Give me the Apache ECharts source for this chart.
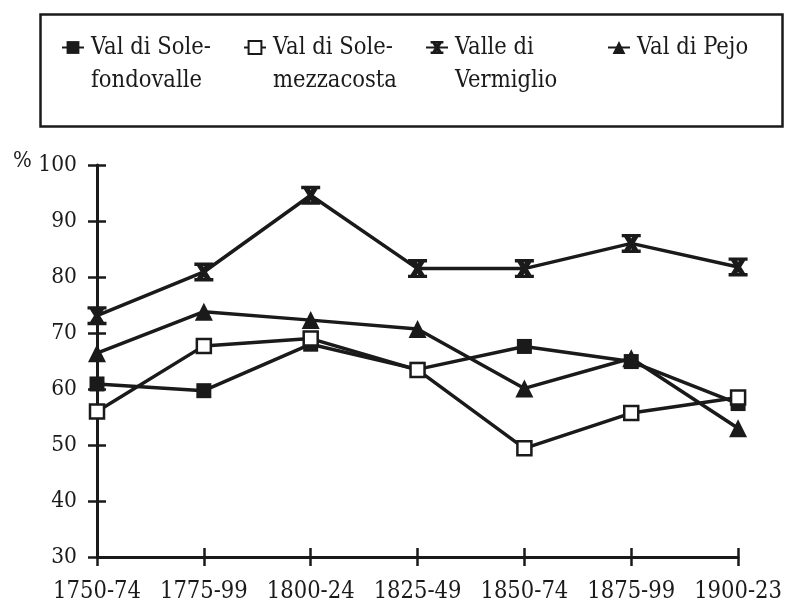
<!DOCTYPE html>
<html>
<head>
<meta charset="utf-8">
<script src="https://cdn.jsdelivr.net/npm/echarts@6/dist/echarts.min.js"></script>
<style>html,body{margin:0;padding:0;background:#fff}#c{width:785px;height:605px}</style>
</head>
<body>
<div id="c"></div>
<script>
var categories = ['1750-74', '1775-99', '1800-24', '1825-49', '1850-74', '1875-99', '1900-23'];
var fondovalle = [60.9, 59.7, 68.0, 63.5, 67.6, 64.9, 57.4];
var mezzacosta = [56.0, 67.7, 69.0, 63.4, 49.4, 55.7, 58.5];
var vermiglio  = [73.1, 80.9, 94.6, 81.5, 81.5, 86.0, 81.8];
var pejo       = [66.4, 73.8, 72.3, 70.7, 60.1, 65.5, 53.0];
var seriesNames = ['Val di Sole-\nfondovalle', 'Val di Sole-\nmezzacosta', 'Valle di\nVermiglio', 'Val di Pejo'];
var yTicks = {min: 30, max: 100, interval: 10};

var INK = '#1a1a1a';
var FONT = '"DejaVu Serif Condensed", "DejaVu Serif", serif';
var starPath = 'path://M1,0L9,0L9,1.8L1,1.8Z M1,8.2L9,8.2L9,10L1,10Z M1.2,0L3.8,0L8.8,10L6.2,10Z M6.2,0L8.8,0L3.8,10L1.2,10Z';

var chart = echarts.init(document.getElementById('c'), null, {renderer: 'canvas'});

function mkSeries(name, data, symbol, size, fill) {
  return {
    name: name, type: 'line', data: data, xAxisIndex: 0, yAxisIndex: 0,
    symbol: symbol, symbolSize: size, showAllSymbol: true,
    lineStyle: {color: INK, width: 3.5},
    itemStyle: {color: fill, borderColor: INK, borderWidth: fill === '#fff' ? 2.5 : 0, opacity: 1},
    emphasis: {disabled: true},
    animation: false, z: 3
  };
}

function mkLegend(name, left, top, twoLine) {
  return {
    left: left, top: top, padding: 0,
    itemWidth: 22, itemHeight: 16,
    data: [name],
    selectedMode: false,
    formatter: twoLine ? function (n) { return ' \n' + n; } : null,
    textStyle: {fontFamily: FONT, fontSize: 23.5, color: INK, lineHeight: 33, padding: [0, 0, 0, 2]}
  };
}

chart.setOption({
  backgroundColor: '#fff',
  animation: false,
  textStyle: {fontFamily: FONT},
  grid: {left: 97, right: 46, top: 165, bottom: 48, containLabel: false},
  legend: [
    mkLegend(seriesNames[0], 61, -2, true),
    mkLegend(seriesNames[1], 243, -2, true),
    mkLegend(seriesNames[2], 425, -2, true),
    mkLegend(seriesNames[3], 607, 31, false)
  ],
  xAxis: [{
    type: 'category', data: categories, boundaryGap: false,
    axisLine: {lineStyle: {color: INK, width: 3}},
    axisTick: {show: true, length: 9, lineStyle: {color: INK, width: 2.5}, alignWithLabel: true},
    axisLabel: {margin: 23, showMaxLabel: true, showMinLabel: true, interval: 0,
      fontFamily: FONT, fontSize: 23.5, color: INK},
    splitLine: {show: false}
  }, {
    type: 'category', data: categories, boundaryGap: false, position: 'bottom',
    axisLine: {show: false},
    axisTick: {show: true, inside: true, length: 9, lineStyle: {color: INK, width: 2.5}, alignWithLabel: true},
    axisLabel: {show: false}, splitLine: {show: false}
  }],
  yAxis: [{
    type: 'value', min: yTicks.min, max: yTicks.max, interval: yTicks.interval,
    axisLine: {show: true, lineStyle: {color: INK, width: 3}},
    axisTick: {show: true, length: 9, lineStyle: {color: INK, width: 2.5}},
    axisLabel: {margin: 20, fontFamily: FONT, fontSize: 22.5, color: INK},
    splitLine: {show: false}
  }, {
    type: 'value', min: yTicks.min, max: yTicks.max, interval: yTicks.interval, position: 'left',
    axisLine: {show: false},
    axisTick: {show: true, inside: true, length: 9, lineStyle: {color: INK, width: 2.5}},
    axisLabel: {show: false}, splitLine: {show: false}
  }],
  graphic: [
    {type: 'rect', left: 38, top: 12, shape: {width: 742, height: 112},
     style: {fill: 'none', stroke: INK, lineWidth: 2.5}, silent: true},
    {type: 'text', left: 13, top: 150, style: {text: '%', font: '22px "DejaVu Serif Condensed", "DejaVu Serif"', fill: INK}}
  ],
  series: [
    mkSeries(seriesNames[0], fondovalle, 'rect', 15, INK),
    mkSeries(seriesNames[1], mezzacosta, 'rect', 14, '#fff'),
    mkSeries(seriesNames[2], vermiglio, starPath, 19, INK),
    mkSeries(seriesNames[3], pejo, 'triangle', 18, INK)
  ]
});
</script>
</body>
</html>
